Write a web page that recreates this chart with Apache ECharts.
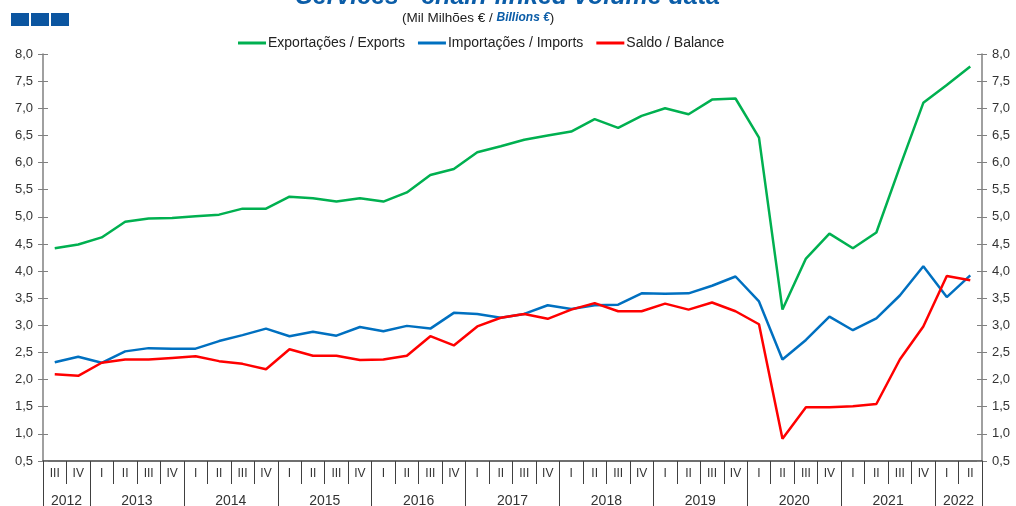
<!DOCTYPE html>
<html>
<head>
<meta charset="utf-8">
<script src="https://cdn.jsdelivr.net/npm/echarts@6/dist/echarts.min.js"></script>
<style>
html,body{margin:0;padding:0;background:#fff;}
#chart{width:1016px;height:506px;}
</style>
</head>
<body>
<div id="chart"></div>
<script>
// ---- Data ----
const quarters = ['III','IV',
  'I','II','III','IV', 'I','II','III','IV', 'I','II','III','IV',
  'I','II','III','IV', 'I','II','III','IV', 'I','II','III','IV',
  'I','II','III','IV', 'I','II','III','IV', 'I','II','III','IV',
  'I','II'];
const years = ['2012','2013','2014','2015','2016','2017','2018','2019','2020','2021','2022'];
const quartersPerYear = [2,4,4,4,4,4,4,4,4,4,2];

const exportsData = [4.42,4.49,4.62,4.91,4.97,4.98,5.01,5.04,5.15,5.15,
  5.37,5.34,5.28,5.34,5.28,5.45,5.77,5.88,6.19,6.30,
  6.42,6.50,6.57,6.80,6.64,6.86,7.00,6.89,7.16,7.18,
  6.46,3.29,4.23,4.69,4.42,4.71,5.92,7.10,7.43,7.77];
const importsData = [2.32,2.42,2.31,2.52,2.58,2.57,2.57,2.71,2.82,2.94,
  2.80,2.88,2.81,2.97,2.89,2.99,2.94,3.23,3.21,3.14,
  3.21,3.37,3.30,3.37,3.38,3.59,3.58,3.59,3.73,3.90,
  3.44,2.37,2.73,3.16,2.91,3.13,3.55,4.09,3.52,3.92];
const balanceData = [2.10,2.07,2.31,2.37,2.37,2.40,2.43,2.34,2.29,2.19,
  2.56,2.44,2.44,2.36,2.37,2.44,2.80,2.63,2.98,3.14,
  3.21,3.12,3.29,3.41,3.26,3.26,3.40,3.29,3.42,3.26,
  3.02,0.91,1.49,1.49,1.51,1.55,2.37,2.98,3.91,3.83];

const seriesNames = ['Exportações / Exports','Importações / Imports','Saldo / Balance'];
const titleText = 'Services - chain-linked volume data';

// ---- Year axis (half-quarter resolution, boundaryGap false) ----
const yearAxisData = [];
const yearCenters = new Set();
const yearBounds = new Set([0]);
(function(){
  let pos = 0;
  years.forEach((y,i)=>{
    const n = quartersPerYear[i];
    yearCenters.add(pos + n);
    pos += 2*n;
    yearBounds.add(pos);
  });
  for (let k=0;k<=pos;k++) yearAxisData.push('');
  pos = 0;
  years.forEach((y,i)=>{
    yearAxisData[pos + quartersPerYear[i]] = y;
    pos += 2*quartersPerYear[i];
  });
})();

const FONT = 'Liberation Sans, Arial, sans-serif';
const fmt = v => v.toFixed(1).replace('.', ',');

const chart = echarts.init(document.getElementById('chart'), null, {renderer:'canvas'});
const yBase = {
  type:'value', min:0.5, max:8, interval:0.5,
  splitLine:{show:false},
  axisLine:{show:true, lineStyle:{color:'#808080', width:1.5}},
};
chart.setOption({
  backgroundColor:'#fff',
  animation:false,
  title:[
    {
      text: titleText,
      left:'center', top:-20,
      textStyle:{fontFamily:FONT, fontSize:25, fontWeight:'bold', fontStyle:'italic', color:'#0B5DA8'}
    },
    {
      text:'{n|(Mil Milhões € / }{b|Billions €}{n|)}',
      left:397, top:6,
      textStyle:{fontWeight:'normal', rich:{
        n:{fontFamily:FONT, fontSize:13.5, fontWeight:'normal', color:'#222'},
        b:{fontFamily:FONT, fontSize:12, fontWeight:'bold', fontStyle:'italic', color:'#0B5DA8'}
      }}
    }
  ],
  legend:{
    top:31, left:233,
    icon:'rect', itemWidth:28, itemHeight:3, itemGap:13,
    textStyle:{fontFamily:FONT, fontSize:14, color:'#222', padding:[0,0,0,-3]},
    data: seriesNames
  },
  graphic:[
    {type:'rect', shape:{x:11,y:13,width:18,height:13}, style:{fill:'#0B55A0'}},
    {type:'rect', shape:{x:31,y:13,width:18,height:13}, style:{fill:'#0B55A0'}},
    {type:'rect', shape:{x:51,y:13,width:18,height:13}, style:{fill:'#0B55A0'}}
  ],
  grid:{left:43, right:34, top:54, bottom:45, containLabel:false, outerBoundsMode:'none'},
  xAxis:[
    {
      type:'category', data:quarters, boundaryGap:true, position:'bottom',
      axisLine:{show:true, lineStyle:{color:'#404040', width:1.5}},
      axisTick:{show:true, interval:0, length:23, lineStyle:{color:'#404040', width:1}},
      axisLabel:{interval:0, margin:7, fontFamily:FONT, fontSize:12, color:'#333'}
    },
    {
      type:'category', data:yearAxisData, boundaryGap:false, position:'bottom',
      axisLine:{show:false},
      axisTick:{show:true, length:60, interval:(i)=>yearBounds.has(i), lineStyle:{color:'#404040', width:1}},
      axisLabel:{interval:(i)=>yearCenters.has(i), margin:33, fontFamily:FONT, fontSize:14, color:'#333'}
    }
  ],
  yAxis:[
    Object.assign({}, yBase, {position:'left',
      axisTick:{show:true, length:5, lineStyle:{color:'#808080'}},
      axisLabel:{formatter:fmt, margin:10, fontFamily:FONT, fontSize:13, color:'#333'}}),
    Object.assign({}, yBase, {position:'right',
      axisTick:{show:true, length:5, lineStyle:{color:'#808080'}},
      axisLabel:{formatter:fmt, margin:10, fontFamily:FONT, fontSize:13, color:'#333'}}),
    Object.assign({}, yBase, {position:'left', axisLine:{show:false},
      axisTick:{show:true, inside:true, length:5, lineStyle:{color:'#808080'}}, axisLabel:{show:false}}),
    Object.assign({}, yBase, {position:'right', axisLine:{show:false},
      axisTick:{show:true, inside:true, length:5, lineStyle:{color:'#808080'}}, axisLabel:{show:false}})
  ],
  series:[
    {name:seriesNames[0], type:'line', data:exportsData, symbol:'none', lineStyle:{color:'#00B050', width:2.5}, itemStyle:{color:'#00B050'}},
    {name:seriesNames[1], type:'line', data:importsData, symbol:'none', lineStyle:{color:'#0070C0', width:2.5}, itemStyle:{color:'#0070C0'}},
    {name:seriesNames[2], type:'line', data:balanceData, symbol:'none', lineStyle:{color:'#FF0000', width:2.5}, itemStyle:{color:'#FF0000'}}
  ]
});
</script>
</body>
</html>
